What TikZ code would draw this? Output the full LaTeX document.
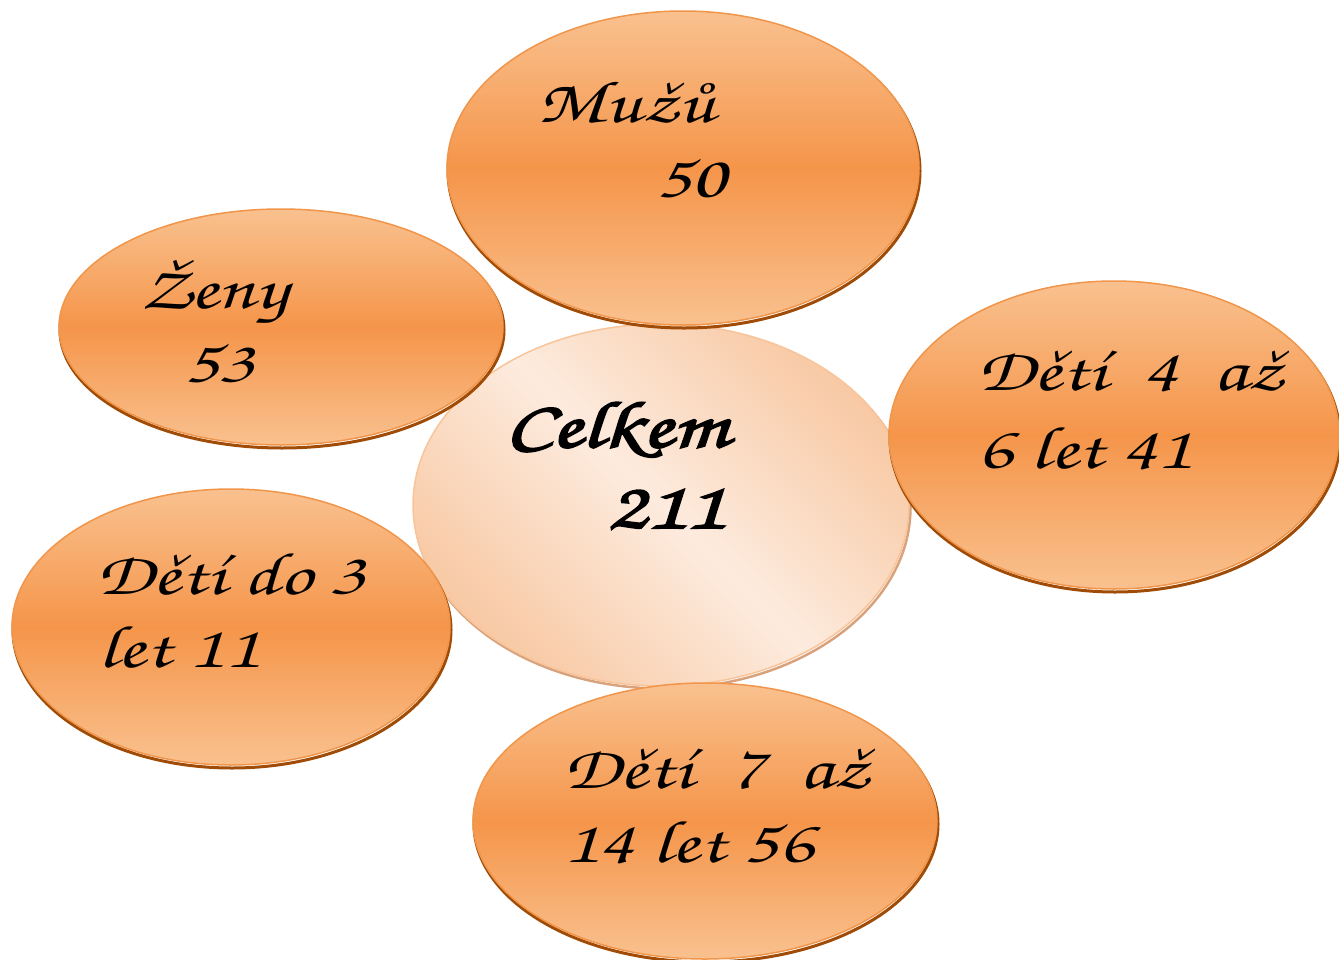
\documentclass[tikz,border=0pt]{standalone}
\usepackage{fontspec}
\setmainfont{texgyrechorus-mediumitalic.otf}[FakeStretch=1.35,
  BoldFont=texgyrechorus-mediumitalic.otf, BoldFeatures={FakeBold=3, FakeStretch=1.35}]
\usetikzlibrary{shapes.geometric}
\definecolor{otop}{HTML}{F9C18F}
\definecolor{omid}{HTML}{F5954A}
\definecolor{oline}{HTML}{F0954A}
\definecolor{oshadow}{HTML}{A04C06}
\definecolor{clight}{HTML}{FDEBDE}
\definecolor{cdark}{HTML}{F8C9A4}
\definecolor{cline}{HTML}{F8C49A}
\definecolor{cshadow}{HTML}{D8A27C}
\tikzset{
  outer/.style={ellipse, inner sep=0pt, draw=oline, line width=1.5pt,
    top color=otop, bottom color=otop, middle color=omid,
    preaction={draw=oshadow, line width=3pt, transform canvas={xshift=1pt,yshift=-3pt}}},
  centre/.style={ellipse, inner sep=0pt, draw=cline, line width=1.5pt,
    top color=cdark, bottom color=cdark, middle color=clight, shading angle=-45,
    preaction={draw=cshadow, line width=2.5pt, transform canvas={xshift=1.5pt,yshift=-2.5pt}}},
  lbl/.style={anchor=base west, inner sep=0pt, font=\fontsize{60}{70}\selectfont, text=black},
  blbl/.style={lbl, font=\fontsize{66}{76}\selectfont\bfseries}
}
\begin{document}
\begin{tikzpicture}[x=1pt,y=-1pt]
\useasboundingbox (0,0) rectangle (1339,959);
\node[centre, minimum width=496pt, minimum height=362pt] (celkem) at (661,505) {};
\node[outer, minimum width=472pt, minimum height=314pt] (muzu) at (683,168) {};
\node[outer, minimum width=444pt, minimum height=236pt] (zeny) at (281,327) {};
\node[outer, minimum width=450pt, minimum height=308pt] (d46) at (1114,435) {};
\node[outer, minimum width=438pt, minimum height=276pt] (d03) at (231,627) {};
\node[outer, minimum width=464pt, minimum height=276pt] (d714) at (705,821) {};
\node[lbl] (t1a) at (537,122) {Mužů};
\node[lbl] (t1b) at (655,197) {50};
\node[lbl] (t2a) at (140,308) {Ženy};
\node[lbl] (t2b) at (183,382) {53};
\node[blbl] (t3a) at (505,447) {Celkem};
\node[blbl] (t3b) at (607,528) {211};
\node[lbl] (t4a) at (977,390) {Dětí\ \ 4\ \ až};
\node[lbl] (t4b) at (977,468) {6 let 41};
\node[lbl] (t5a) at (96,594) {Dětí do 3};
\node[lbl] (t5b) at (98,667) {let 11};
\node[lbl] (t6a) at (563,788) {Dětí\ \ 7\ \ až};
\node[lbl] (t6b) at (563,862) {14 let 56};
\end{tikzpicture}
\end{document}
